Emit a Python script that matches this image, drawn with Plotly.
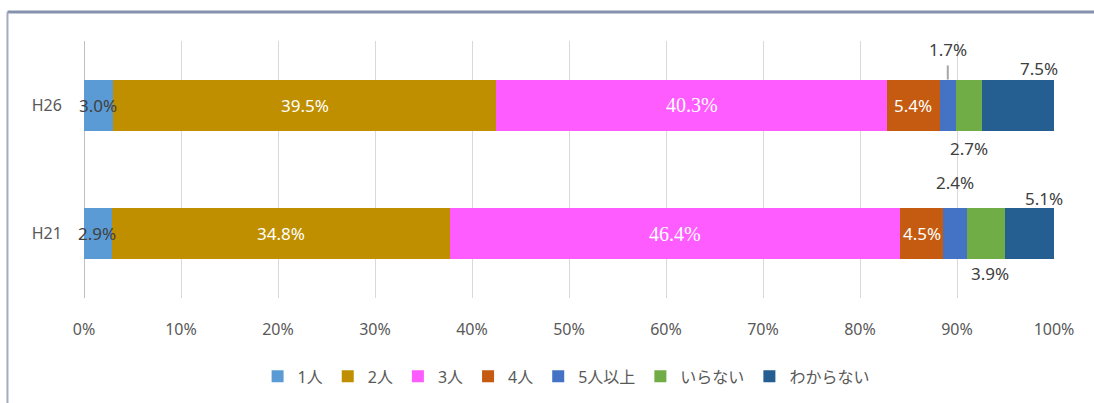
import plotly.graph_objects as go

# Survey years (bottom to top) and answer categories
years = ["H21", "H26"]
categories = ["1人", "2人", "3人", "4人", "5人以上", "いらない", "わからない"]
colors = ["#5b9bd5", "#bf8f00", "#ff5cff", "#c55a11", "#4472c4", "#70ad47", "#255e91"]

# Share (%) per category, one value per year in `years` order
share_1 = [2.9, 3.0]
share_2 = [34.8, 39.5]
share_3 = [46.4, 40.3]
share_4 = [4.5, 5.4]
share_5 = [2.4, 1.7]
share_none = [3.9, 2.7]
share_unknown = [5.1, 7.5]
series = [share_1, share_2, share_3, share_4, share_5, share_none, share_unknown]

SANS = "Noto Sans, Noto Sans CJK JP, sans-serif"
SERIF = "Liberation Serif"
GREY = "#595959"
DARK = "#404040"

fig = go.Figure()
for name, vals, col in zip(categories, series, colors):
    fig.add_trace(go.Bar(
        y=years, x=vals, name=name, orientation="h",
        marker=dict(color=col, line=dict(width=0)),
        hoverinfo="x+name",
    ))

# Cumulative left edge for each segment
starts = []
for i in range(len(years)):
    acc, row = 0.0, []
    for vals in series:
        row.append(acc)
        acc += vals[i]
    starts.append(row)

BAR_HALF = 0.2  # half bar thickness in category units (bargap 0.6)

annots = []
def add_label(ci, yi, color, yshift=0, xshift=0, family=SANS, size=17):
    v = series[ci][yi]
    x = starts[yi][ci] + v / 2
    annots.append(dict(
        x=x, y=yi, xref="x", yref="y", text=f"{v:.1f}%", showarrow=False,
        font=dict(family=family, size=size, color=color),
        xshift=xshift, yshift=yshift, xanchor="center", yanchor="middle",
    ))

for yi in range(len(years)):
    add_label(0, yi, DARK, xshift=-1)
    add_label(1, yi, "white")
    add_label(2, yi, "white", family=SERIF, size=20)
    add_label(3, yi, "white")

# small segments: labels outside the bars
add_label(4, 1, DARK, yshift=56)      # H26 5人以上, with leader line
add_label(5, 1, DARK, yshift=-43)     # H26 いらない
add_label(6, 1, DARK, yshift=37, xshift=20)
add_label(4, 0, DARK, yshift=51)      # H21 5人以上
add_label(5, 0, DARK, yshift=-40, xshift=4)
add_label(6, 0, DARK, yshift=35, xshift=15)

shapes = []
# leader line for H26 5人以上 label
lx = starts[1][4] + series[4][1] / 2
shapes.append(dict(type="line", xref="x", yref="y", x0=lx, x1=lx,
                   y0=1 + BAR_HALF, y1=1 + BAR_HALF + 0.11,
                   line=dict(color="#a6a6a6", width=2)))
# chart frame: top and left border
shapes.append(dict(type="line", xref="paper", yref="paper",
                   x0=-0.0789, x1=1.05, y0=1.1128, y1=1.1128,
                   line=dict(color="#8591ad", width=3)))
shapes.append(dict(type="line", xref="paper", yref="paper",
                   x0=-0.0789, x1=-0.0789, y0=1.1128, y1=-0.45,
                   line=dict(color="#a3aac2", width=2)))

fig.update_layout(
    width=1094, height=403,
    margin=dict(l=84, r=40, t=41, b=105, autoexpand=False),
    paper_bgcolor="white", plot_bgcolor="white",
    barmode="stack", bargap=0.6,
    showlegend=True,
    legend=dict(orientation="h", x=0.497, xanchor="center", y=-0.305, yanchor="middle",
                font=dict(family=SANS, size=16, color=GREY),
                itemwidth=30, traceorder="normal"),
    xaxis=dict(range=[0, 100], tickvals=list(range(0, 101, 10)),
               ticktext=[f"{v}%" for v in range(0, 101, 10)],
               showgrid=True, gridcolor="#d9d9d9", gridwidth=1,
               zeroline=False, showline=False,
               ticks="outside", ticklen=17, tickcolor="rgba(0,0,0,0)",
               tickfont=dict(family=SANS, size=16, color=GREY), fixedrange=True),
    yaxis=dict(categoryorder="array", categoryarray=years, range=[-0.5, 1.5],
               showgrid=False, zeroline=False, showline=False,
               ticks="outside", ticklen=18, tickcolor="rgba(0,0,0,0)",
               tickfont=dict(family=SANS, size=16, color=GREY), fixedrange=True),
    annotations=annots,
    shapes=shapes,
)
# darker 0% axis line
fig.add_vline(x=0, line=dict(color="#bfbfbf", width=2), layer="below")

fig.write_html("out.html")
